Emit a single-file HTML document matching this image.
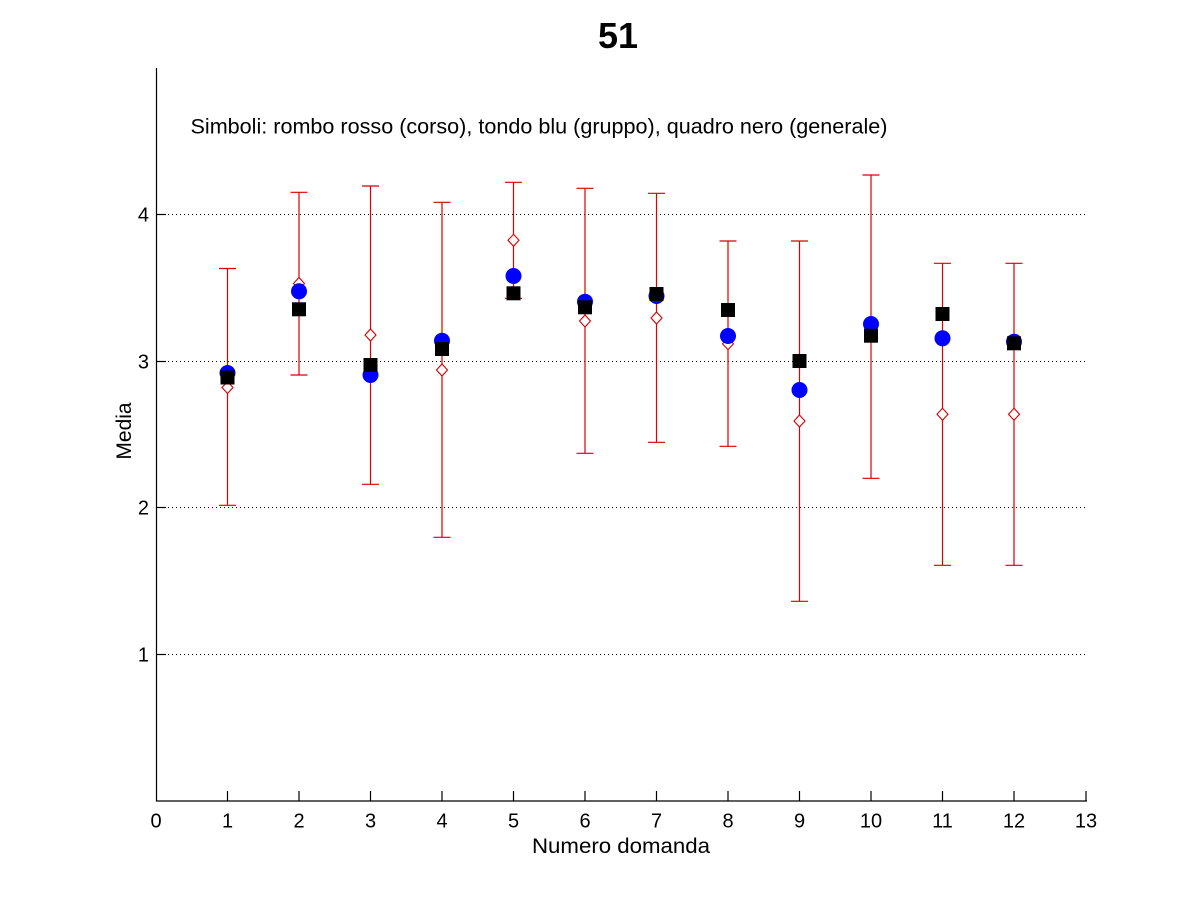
<!DOCTYPE html>
<html>
<head>
<meta charset="utf-8">
<style>
html,body{margin:0;padding:0;background:#fff;}
svg{display:block;}
text{font-family:"Liberation Sans",Arial,sans-serif;fill:#000;}
</style>
</head>
<body>
<svg width="1200" height="900" viewBox="0 0 1200 900" xmlns="http://www.w3.org/2000/svg">
<rect x="0" y="0" width="1200" height="900" fill="#fff"/>

<!-- title -->
<text x="618" y="48" font-size="36" font-weight="bold" text-anchor="middle">51</text>

<!-- grid lines -->
<g stroke="#000" stroke-width="1" stroke-dasharray="1,3">
  <line x1="160" y1="214.5" x2="1086" y2="214.5"/>
  <line x1="160" y1="361.5" x2="1086" y2="361.5"/>
  <line x1="160" y1="507.5" x2="1086" y2="507.5"/>
  <line x1="160" y1="654.5" x2="1086" y2="654.5"/>
</g>

<!-- axes -->
<g stroke="#000" stroke-width="1.2" fill="none">
  <line x1="156.5" y1="68" x2="156.5" y2="801.5"/>
  <line x1="156" y1="801" x2="1087" y2="801"/>
  <!-- y ticks -->
  <line x1="156.5" y1="214.5" x2="166" y2="214.5"/>
  <line x1="156.5" y1="361.5" x2="166" y2="361.5"/>
  <line x1="156.5" y1="507.5" x2="166" y2="507.5"/>
  <line x1="156.5" y1="654.5" x2="166" y2="654.5"/>
  <!-- x ticks -->
  <line x1="227.5" y1="801" x2="227.5" y2="791"/>
  <line x1="299" y1="801" x2="299" y2="791"/>
  <line x1="370.5" y1="801" x2="370.5" y2="791"/>
  <line x1="442" y1="801" x2="442" y2="791"/>
  <line x1="513.5" y1="801" x2="513.5" y2="791"/>
  <line x1="585" y1="801" x2="585" y2="791"/>
  <line x1="656.5" y1="801" x2="656.5" y2="791"/>
  <line x1="728" y1="801" x2="728" y2="791"/>
  <line x1="799.5" y1="801" x2="799.5" y2="791"/>
  <line x1="871" y1="801" x2="871" y2="791"/>
  <line x1="942.5" y1="801" x2="942.5" y2="791"/>
  <line x1="1014" y1="801" x2="1014" y2="791"/>
  <line x1="1086" y1="801" x2="1086" y2="791"/>
</g>

<!-- y tick labels -->
<g font-size="20" text-anchor="end">
  <text x="149" y="221.5">4</text>
  <text x="149" y="368.5">3</text>
  <text x="149" y="514.5">2</text>
  <text x="149" y="661.5">1</text>
</g>

<!-- x tick labels -->
<g font-size="20" text-anchor="middle">
  <text x="156" y="827.5">0</text>
  <text x="227.5" y="827.5">1</text>
  <text x="299" y="827.5">2</text>
  <text x="370.5" y="827.5">3</text>
  <text x="442" y="827.5">4</text>
  <text x="513.5" y="827.5">5</text>
  <text x="585" y="827.5">6</text>
  <text x="656.5" y="827.5">7</text>
  <text x="728" y="827.5">8</text>
  <text x="799.5" y="827.5">9</text>
  <text x="871" y="827.5">10</text>
  <text x="942.5" y="827.5">11</text>
  <text x="1014" y="827.5">12</text>
  <text x="1086" y="827.5">13</text>
</g>

<!-- axis labels -->
<text x="621" y="853" font-size="21" text-anchor="middle" textLength="178" lengthAdjust="spacingAndGlyphs">Numero domanda</text>
<text transform="translate(131,431) rotate(-90)" font-size="21" text-anchor="middle">Media</text>

<!-- annotation -->
<text x="190.5" y="133.3" font-size="21" textLength="697" lengthAdjust="spacingAndGlyphs">Simboli: rombo rosso (corso), tondo blu (gruppo), quadro nero (generale)</text>

<!-- error bars -->
<g stroke="#d80000" stroke-width="1.2" fill="none">
  <path d="M227.5 268.5V505.3M219 268.5h17M219 505.3h17"/>
  <path d="M299 192.3V375M290.5 192.3h17M290.5 375h17"/>
  <path d="M370.5 186V484.3M362 186h17M362 484.3h17"/>
  <path d="M442 202.3V537.3M433.5 202.3h17M433.5 537.3h17"/>
  <path d="M513.5 182.3V298.3M505 182.3h17M505 298.3h17"/>
  <path d="M585 188.3V453.3M576.5 188.3h17M576.5 453.3h17"/>
  <path d="M656.5 193.3V442.3M648 193.3h17M648 442.3h17"/>
  <path d="M728 241V446.3M719.5 241h17M719.5 446.3h17"/>
  <path d="M799.5 241V601.3M791 241h17M791 601.3h17"/>
  <path d="M871 175V478.3M862.5 175h17M862.5 478.3h17"/>
  <path d="M942.5 263.3V565.3M934 263.3h17M934 565.3h17"/>
  <path d="M1014 263.3V565.3M1005.5 263.3h17M1005.5 565.3h17"/>
</g>

<!-- diamonds -->
<g stroke="#d80000" stroke-width="1.1" fill="#fff">
  <path d="M227.5 381.5l5.5 6l-5.5 6l-5.5 -6z"/>
  <path d="M299 277.5l5.5 6l-5.5 6l-5.5 -6z"/>
  <path d="M370.5 329l5.5 6l-5.5 6l-5.5 -6z"/>
  <path d="M442 364l5.5 6l-5.5 6l-5.5 -6z"/>
  <path d="M513.5 234.3l5.5 6l-5.5 6l-5.5 -6z"/>
  <path d="M585 315l5.5 6l-5.5 6l-5.5 -6z"/>
  <path d="M656.5 312l5.5 6l-5.5 6l-5.5 -6z"/>
  <path d="M728 337.7l5.5 6l-5.5 6l-5.5 -6z"/>
  <path d="M799.5 415l5.5 6l-5.5 6l-5.5 -6z"/>
  <path d="M871 320.5l5.5 6l-5.5 6l-5.5 -6z"/>
  <path d="M942.5 408.3l5.5 6l-5.5 6l-5.5 -6z"/>
  <path d="M1014 408.3l5.5 6l-5.5 6l-5.5 -6z"/>
</g>

<!-- circles -->
<g fill="#0000ff">
  <circle cx="227.5" cy="373" r="8"/>
  <circle cx="299" cy="291.3" r="8"/>
  <circle cx="370.5" cy="375" r="8"/>
  <circle cx="442" cy="340.7" r="8"/>
  <circle cx="513.5" cy="276" r="8"/>
  <circle cx="585" cy="301.7" r="8"/>
  <circle cx="656.5" cy="296" r="8"/>
  <circle cx="728" cy="336" r="8"/>
  <circle cx="799.5" cy="390" r="8"/>
  <circle cx="871" cy="324" r="8"/>
  <circle cx="942.5" cy="338.3" r="8"/>
  <circle cx="1014" cy="341.7" r="8"/>
</g>

<!-- squares -->
<g fill="#000">
  <rect x="220.5" y="370.5" width="14" height="14"/>
  <rect x="292" y="302.3" width="14" height="14"/>
  <rect x="363.5" y="358" width="14" height="14"/>
  <rect x="435" y="342" width="14" height="14"/>
  <rect x="506.5" y="286.3" width="14" height="14"/>
  <rect x="578" y="300.3" width="14" height="14"/>
  <rect x="649.5" y="287" width="14" height="14"/>
  <rect x="721" y="303" width="14" height="14"/>
  <rect x="792.5" y="354" width="14" height="14"/>
  <rect x="864" y="328.7" width="14" height="14"/>
  <rect x="935.5" y="307" width="14" height="14"/>
  <rect x="1007" y="336.3" width="14" height="14"/>
</g>
</svg>
</body>
</html>
